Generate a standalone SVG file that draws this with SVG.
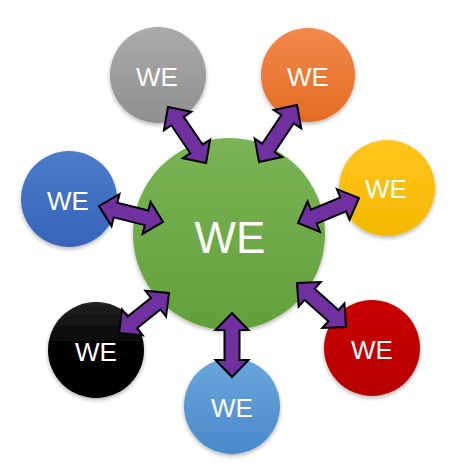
<svg xmlns="http://www.w3.org/2000/svg" width="462" height="476" viewBox="0 0 462 476">
<style>
.lbl{font-family:"Liberation Sans",Arial,sans-serif;fill:#fff;text-anchor:middle}
.s{font-size:26px}
.b{font-size:44px}
.arr{fill:#7030A0;stroke:#000;stroke-width:2;stroke-linejoin:miter}
</style>
<defs>
<linearGradient id="gG" x1="0" y1="0" x2="0" y2="1"><stop offset="0" stop-color="#7AB455"/><stop offset="1" stop-color="#62A03A"/></linearGradient>
<linearGradient id="gGr" x1="0" y1="0" x2="0" y2="1"><stop offset="0" stop-color="#ABABAB"/><stop offset="1" stop-color="#8F8F8F"/></linearGradient>
<linearGradient id="gO" x1="0" y1="0" x2="0" y2="1"><stop offset="0" stop-color="#F2894A"/><stop offset="1" stop-color="#E46C22"/></linearGradient>
<linearGradient id="gY" x1="0" y1="0" x2="0" y2="1"><stop offset="0" stop-color="#FFC61C"/><stop offset="1" stop-color="#F5B800"/></linearGradient>
<linearGradient id="gB" x1="0" y1="0" x2="0" y2="1"><stop offset="0" stop-color="#4C7CCB"/><stop offset="1" stop-color="#3664B8"/></linearGradient>
<linearGradient id="gK" x1="0" y1="0" x2="0" y2="1"><stop offset="0" stop-color="#222"/><stop offset="0.5" stop-color="#000"/><stop offset="1" stop-color="#000"/></linearGradient>
<linearGradient id="gL" x1="0" y1="0" x2="0" y2="1"><stop offset="0" stop-color="#6AA6DC"/><stop offset="1" stop-color="#4A8ACB"/></linearGradient>
<linearGradient id="gR" x1="0" y1="0" x2="0" y2="1"><stop offset="0" stop-color="#C80000"/><stop offset="1" stop-color="#B80000"/></linearGradient>
<filter id="sh" x="-20%" y="-20%" width="140%" height="140%"><feGaussianBlur in="SourceAlpha" stdDeviation="2"/><feOffset dx="0" dy="2"/><feComponentTransfer><feFuncA type="linear" slope="0.3"/></feComponentTransfer><feMerge><feMergeNode/><feMergeNode in="SourceGraphic"/></feMerge></filter>
</defs>
<rect width="462" height="476" fill="#fff"/>
<g id="center"><circle cx="229" cy="234" r="96" fill="url(#gG)" filter="url(#sh)"/><text class="lbl b" x="230" y="253">WE</text></g>
<g id="gray"><circle cx="158" cy="75" r="48" fill="url(#gGr)" filter="url(#sh)"/><text class="lbl s" x="157" y="85.5">WE</text></g>
<g id="orange"><circle cx="308" cy="75" r="47" fill="url(#gO)" filter="url(#sh)"/><text class="lbl s" x="308" y="85.5">WE</text></g>
<g id="yellow"><circle cx="387" cy="188" r="48" fill="url(#gY)" filter="url(#sh)"/><text class="lbl s" x="386" y="197.5">WE</text></g>
<g id="blue"><circle cx="69" cy="199" r="48" fill="url(#gB)" filter="url(#sh)"/><text class="lbl s" x="68" y="209.5">WE</text></g>
<g id="black"><circle cx="96" cy="350" r="48" fill="url(#gK)" filter="url(#sh)"/><text class="lbl s" x="96" y="360.5">WE</text></g>
<g id="lightblue"><circle cx="232" cy="406" r="48" fill="url(#gL)" filter="url(#sh)"/><text class="lbl s" x="232" y="416.5">WE</text></g>
<g id="red"><circle cx="372" cy="348" r="48" fill="url(#gR)" filter="url(#sh)"/><text class="lbl s" x="372" y="358.5">WE</text></g>
<g id="connectors">
<path class="arr" transform="translate(168,107) rotate(55.8)" d="M0,0 L17,-16.5 L17,-7.5 L50.7,-7.5 L50.7,-16.5 L67.7,0 L50.7,16.5 L50.7,7.5 L17,7.5 L17,16.5 Z"/>
<path class="arr" transform="translate(297,105) rotate(123.7)" d="M0,0 L17,-16.5 L17,-7.5 L51.5,-7.5 L51.5,-16.5 L68.5,0 L51.5,16.5 L51.5,7.5 L17,7.5 L17,16.5 Z"/>
<path class="arr" transform="translate(99,206) rotate(14)" d="M0,0 L17,-16.5 L17,-7.5 L49,-7.5 L49,-16.5 L66,0 L49,16.5 L49,7.5 L17,7.5 L17,16.5 Z"/>
<path class="arr" transform="translate(359,198) rotate(157.7)" d="M0,0 L17,-16.5 L17,-7.5 L48.9,-7.5 L48.9,-16.5 L65.9,0 L48.9,16.5 L48.9,7.5 L17,7.5 L17,16.5 Z"/>
<path class="arr" transform="translate(169,293) rotate(141.3)" d="M0,0 L17,-16.5 L17,-7.5 L47,-7.5 L47,-16.5 L64,0 L47,16.5 L47,7.5 L17,7.5 L17,16.5 Z"/>
<path class="arr" transform="translate(232,313) rotate(90)" d="M0,0 L17,-16.5 L17,-7.5 L47,-7.5 L47,-16.5 L64,0 L47,16.5 L47,7.5 L17,7.5 L17,16.5 Z"/>
<path class="arr" transform="translate(297,283) rotate(41.9)" d="M0,0 L17,-16.5 L17,-7.5 L48.9,-7.5 L48.9,-16.5 L65.9,0 L48.9,16.5 L48.9,7.5 L17,7.5 L17,16.5 Z"/>
</g>
</svg>
